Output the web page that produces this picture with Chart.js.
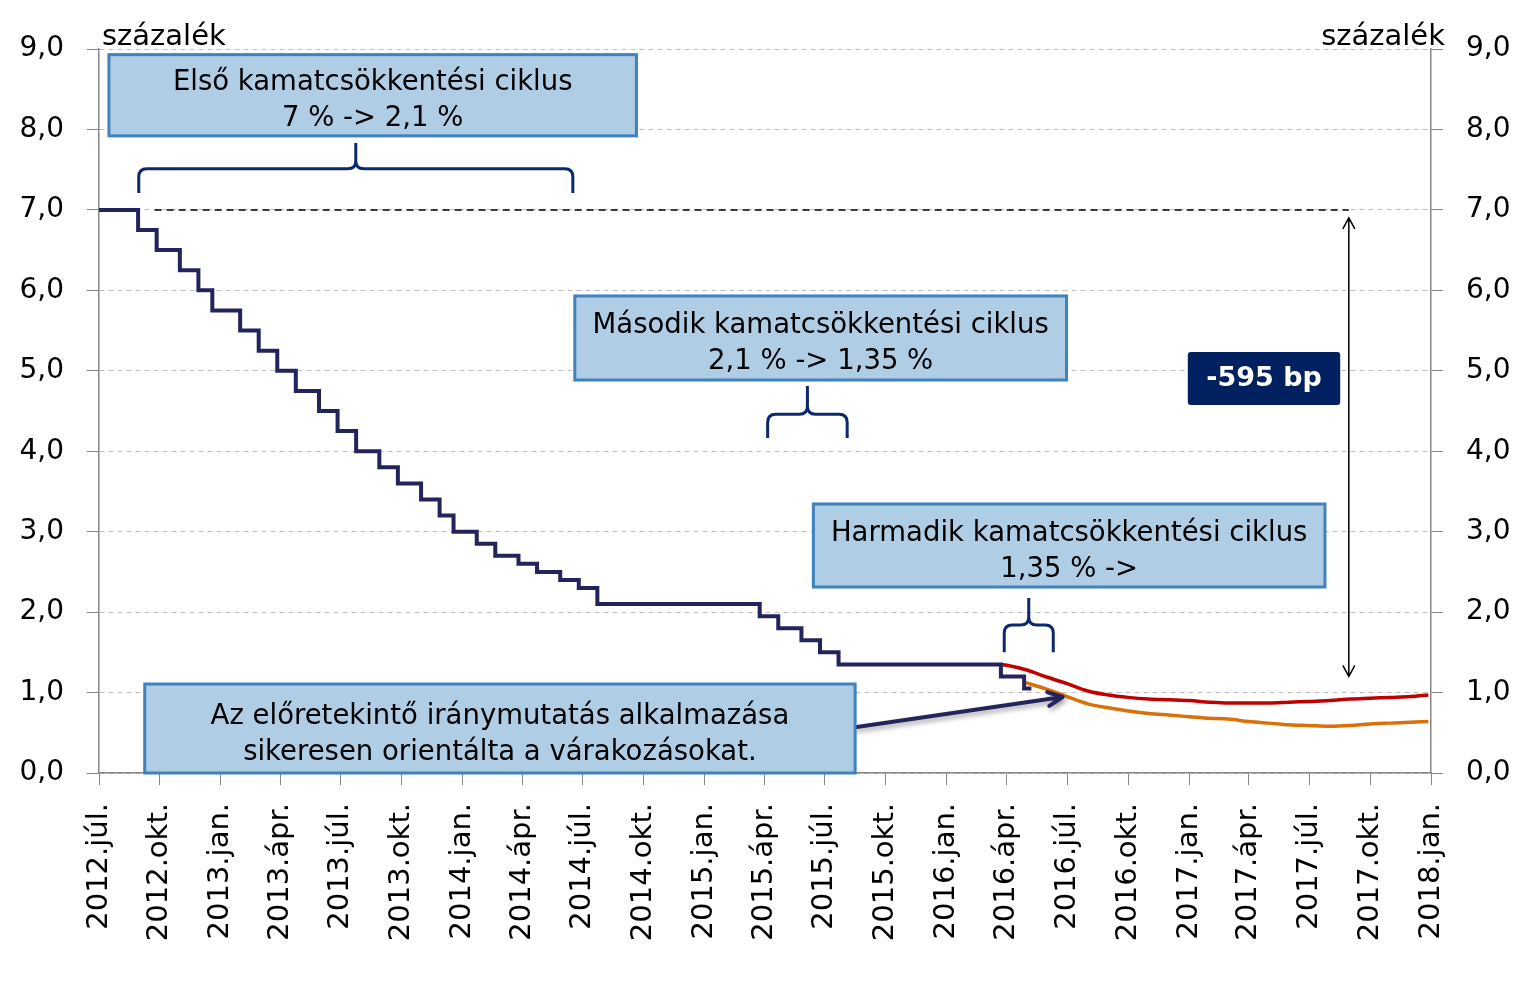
<!DOCTYPE html>
<html>
<head>
<meta charset="utf-8">
<script src="https://cdn.jsdelivr.net/npm/chart.js@4.4.1/dist/chart.umd.min.js"></script>
<style>
  body { margin: 0; background: #fff; }
  #wrap { width: 1525px; height: 996px; position: relative; }
</style>
</head>
<body>
<div id="wrap"><canvas id="rateChart"></canvas></div>
<script>
// Jegybanki alapkamat (lépcsős), dátum + új érték
const rateDates = ['2012-07-01', '2012-08-29', '2012-09-26', '2012-10-31', '2012-11-28', '2012-12-19',
    '2013-01-30', '2013-02-27', '2013-03-27', '2013-04-24', '2013-05-29', '2013-06-26', '2013-07-24',
    '2013-08-28', '2013-09-25', '2013-10-30', '2013-11-27', '2013-12-18', '2014-01-22', '2014-02-19',
    '2014-03-26', '2014-04-23', '2014-05-28', '2014-06-25', '2014-07-23', '2015-03-25', '2015-04-22',
    '2015-05-27', '2015-06-24', '2015-07-22', '2016-03-23', '2016-04-27', '2016-05-08'];
const rateValues = [7.0, 6.75, 6.5, 6.25, 6.0, 5.75, 5.5, 5.25, 5.0, 4.75, 4.5, 4.25, 4.0, 3.8, 3.6, 3.4,
    3.2, 3.0, 2.85, 2.7, 2.6, 2.5, 2.4, 2.3, 2.1, 1.95, 1.8, 1.65, 1.5, 1.35, 1.2, 1.05, 1.05];

// Várakozások (piros és narancs görbe)
const redDates = ['2016-03-23', '2016-04-01', '2016-05-01', '2016-06-01', '2016-07-01', '2016-08-01',
    '2016-09-01', '2016-10-01', '2016-11-01', '2016-12-01', '2017-01-01', '2017-02-01', '2017-03-01',
    '2017-04-01', '2017-05-01', '2017-06-01', '2017-07-01', '2017-08-01', '2017-09-01', '2017-10-01',
    '2017-11-01', '2017-12-01', '2017-12-28'];
const redValues = [1.35, 1.34, 1.28, 1.19, 1.11, 1.02, 0.97, 0.94, 0.92, 0.91, 0.90, 0.88, 0.87,
    0.87, 0.87, 0.88, 0.89, 0.90, 0.92, 0.93, 0.94, 0.95, 0.97];

const orangeDates = ['2016-04-27', '2016-06-01', '2016-07-01', '2016-08-01', '2016-09-01', '2016-10-01',
    '2016-11-01', '2016-12-01', '2017-01-01', '2017-02-01', '2017-03-01', '2017-04-01', '2017-05-01',
    '2017-06-01', '2017-07-01', '2017-08-01', '2017-09-01', '2017-10-01', '2017-11-01', '2017-12-01',
    '2017-12-28'];
const orangeValues = [1.13, 1.04, 0.95, 0.86, 0.81, 0.77, 0.74, 0.72, 0.70, 0.68, 0.67, 0.64, 0.62,
    0.60, 0.59, 0.58, 0.59, 0.61, 0.62, 0.63, 0.64];

// Tengelyfeliratok (negyedévente)
const tickDates = ['2012-07-01', '2012-10-01', '2013-01-01', '2013-04-01', '2013-07-01', '2013-10-01',
    '2014-01-01', '2014-04-01', '2014-07-01', '2014-10-01', '2015-01-01', '2015-04-01', '2015-07-01',
    '2015-10-01', '2016-01-01', '2016-04-01', '2016-07-01', '2016-10-01', '2017-01-01', '2017-04-01',
    '2017-07-01', '2017-10-01', '2018-01-01'];
const tickLabels = ['2012.júl.', '2012.okt.', '2013.jan.', '2013.ápr.', '2013.júl.', '2013.okt.',
    '2014.jan.', '2014.ápr.', '2014.júl.', '2014.okt.', '2015.jan.', '2015.ápr.', '2015.júl.',
    '2015.okt.', '2016.jan.', '2016.ápr.', '2016.júl.', '2016.okt.', '2017.jan.', '2017.ápr.',
    '2017.júl.', '2017.okt.', '2018.jan.'];

const FONT = 'DejaVu Sans';
const origin = Date.parse('2012-07-01');
function day(s) { return (Date.parse(s) - origin) / 86400000; }
function pts(dates, values) { return dates.map((d, i) => ({ x: day(d), y: values[i] })); }

// Szövegdobozok, kapcsos zárójelek (adatkoordinátákban)
const boxes = [
    { from: '2012-07-16', to: '2014-09-20', top: 8.93, bottom: 7.92, lines: ['Első kamatcsökkentési ciklus', '7 % -> 2,1 %'] },
    { from: '2014-06-19', to: '2016-06-30', top: 5.93, bottom: 4.885, lines: ['Második kamatcsökkentési ciklus', '2,1 % -> 1,35 %'] },
    { from: '2015-06-14', to: '2017-07-25', top: 3.344, bottom: 2.312, lines: ['Harmadik kamatcsökkentési ciklus', '1,35 % ->'] },
    { from: '2012-09-08', to: '2015-08-16', top: 1.106, bottom: 0.0, lines: ['Az előretekintő iránymutatás alkalmazása', 'sikeresen orientálta a várakozásokat.'] }
];
const braces = [
    { from: '2012-08-30', to: '2014-06-16', bottom: 7.21, mid: 7.51, tip: 7.83 },
    { from: '2015-04-06', to: '2015-08-04', bottom: 4.165, mid: 4.46, tip: 4.81 },
    { from: '2016-03-28', to: '2016-06-10', bottom: 1.50, mid: 1.84, tip: 2.175 }
];

const annotations = {
    id: 'annotations',
    afterDraw(chart) {
        const ctx = chart.ctx;
        const xs = chart.scales.x, ys = chart.scales.y;
        const X = s => xs.getPixelForValue(day(s));
        const Y = v => ys.getPixelForValue(v);
        ctx.save();

        // százalék
        ctx.font = '29px ' + FONT;
        ctx.fillStyle = '#000';
        ctx.textBaseline = 'alphabetic';
        ctx.textAlign = 'left';
        ctx.fillText('százalék', chart.chartArea.left + 3, 45);
        ctx.textAlign = 'right';
        ctx.fillText('százalék', chart.chartArea.right + 14, 45);

        // 7% szaggatott vonal
        ctx.strokeStyle = '#000';
        ctx.lineWidth = 1.5;
        ctx.setLineDash([7, 5]);
        ctx.beginPath();
        ctx.moveTo(X('2012-09-23'), Y(7));
        ctx.lineTo(X('2017-08-30'), Y(7));
        ctx.stroke();
        ctx.setLineDash([]);

        // kétirányú nyíl
        const ax = X('2017-08-30');
        const ay1 = Y(6.9), ay2 = Y(1.2);
        ctx.beginPath();
        ctx.moveTo(ax, ay1); ctx.lineTo(ax, ay2);
        ctx.moveTo(ax - 6, ay1 + 11); ctx.lineTo(ax, ay1); ctx.lineTo(ax + 6, ay1 + 11);
        ctx.moveTo(ax - 6, ay2 - 11); ctx.lineTo(ax, ay2); ctx.lineTo(ax + 6, ay2 - 11);
        ctx.stroke();

        // kapcsos zárójelek
        ctx.strokeStyle = '#0B2A6B';
        ctx.lineWidth = 3;
        braces.forEach(b => {
            const x0 = X(b.from), x1 = X(b.to), xm = (x0 + x1) / 2;
            const yb = Y(b.bottom), ym = Y(b.mid), yt = Y(b.tip);
            const r = 8;
            ctx.beginPath();
            ctx.moveTo(x0, yb);
            ctx.lineTo(x0, ym + r);
            ctx.quadraticCurveTo(x0, ym, x0 + r, ym);
            ctx.lineTo(xm - r, ym);
            ctx.quadraticCurveTo(xm, ym, xm, ym - r);
            ctx.lineTo(xm, yt);
            ctx.moveTo(xm, ym - r);
            ctx.quadraticCurveTo(xm, ym, xm + r, ym);
            ctx.lineTo(x1 - r, ym);
            ctx.quadraticCurveTo(x1, ym, x1, ym + r);
            ctx.lineTo(x1, yb);
            ctx.stroke();
        });

        // nyíl a doboztól a görbéhez
        const sx = X(boxes[3].to), sy = Y(0.57);
        const ex = X('2016-06-24'), ey = Y(0.945);
        const ang = Math.atan2(ey - sy, ex - sx);
        ctx.save();
        ctx.shadowColor = 'rgba(0,0,0,0.35)';
        ctx.shadowBlur = 5;
        ctx.shadowOffsetX = 2;
        ctx.shadowOffsetY = 3;
        ctx.strokeStyle = '#24245C';
        ctx.lineWidth = 4;
        ctx.lineCap = 'round';
        ctx.lineJoin = 'round';
        ctx.beginPath();
        ctx.moveTo(sx, sy); ctx.lineTo(ex, ey);
        ctx.moveTo(ex - 16 * Math.cos(ang - 0.45), ey - 16 * Math.sin(ang - 0.45));
        ctx.lineTo(ex, ey);
        ctx.lineTo(ex - 16 * Math.cos(ang + 0.45), ey - 16 * Math.sin(ang + 0.45));
        ctx.stroke();
        ctx.restore();

        // dobozok
        boxes.forEach(b => {
            const x0 = X(b.from), x1 = X(b.to), y0 = Y(b.top), y1 = Y(b.bottom);
            ctx.fillStyle = '#AFCDE4';
            ctx.fillRect(x0, y0, x1 - x0, y1 - y0);
            ctx.strokeStyle = '#3E82BE';
            ctx.lineWidth = 3;
            ctx.strokeRect(x0, y0, x1 - x0, y1 - y0);
            ctx.fillStyle = '#000';
            ctx.font = '27.5px ' + FONT;
            ctx.textAlign = 'center';
            ctx.textBaseline = 'alphabetic';
            const mid = (y0 + y1) / 2, cx = (x0 + x1) / 2;
            ctx.fillText(b.lines[0], cx, mid - 5);
            ctx.fillText(b.lines[1], cx, mid + 31);
        });

        // -595 bp
        const bx0 = X('2016-12-30'), bx1 = X('2017-08-17'), by0 = Y(5.234), by1 = Y(4.575);
        ctx.fillStyle = '#002060';
        ctx.beginPath();
        ctx.roundRect(bx0, by0, bx1 - bx0, by1 - by0, 3);
        ctx.fill();
        ctx.fillStyle = '#fff';
        ctx.font = 'bold 27px ' + FONT;
        ctx.textAlign = 'center';
        ctx.textBaseline = 'middle';
        ctx.fillText('-595 bp', (bx0 + bx1) / 2, (by0 + by1) / 2 + 1);

        ctx.restore();
    }
};

const fmt = v => v.toFixed(1).replace('.', ',');

new Chart(document.getElementById('rateChart'), {
    type: 'line',
    data: {
        datasets: [{
            label: 'Alapkamat',
            data: pts(rateDates, rateValues),
            borderColor: '#24245C',
            borderWidth: 4,
            stepped: 'before',
            pointRadius: 0,
            fill: false
        }, {
            label: 'Várakozás 1',
            data: pts(redDates, redValues),
            borderColor: '#C00000',
            borderWidth: 3.5,
            cubicInterpolationMode: 'monotone',
            pointRadius: 0,
            fill: false
        }, {
            label: 'Várakozás 2',
            data: pts(orangeDates, orangeValues),
            borderColor: '#D9700A',
            borderWidth: 3.5,
            cubicInterpolationMode: 'monotone',
            pointRadius: 0,
            fill: false
        }]
    },
    options: {
        responsive: true,
        maintainAspectRatio: false,
        animation: false,
        layout: { padding: { top: 49, left: 0, right: 0, bottom: 0 } },
        plugins: {
            legend: { display: false },
            tooltip: { enabled: false }
        },
        scales: {
            x: {
                type: 'linear',
                min: day(tickDates[0]),
                max: day(tickDates[tickDates.length - 1]),
                afterBuildTicks: scale => { scale.ticks = tickDates.map(d => ({ value: day(d) })); },
                afterFit: scale => { scale.height = 223; },
                ticks: {
                    callback: (v, i) => tickLabels[i],
                    minRotation: 90,
                    maxRotation: 90,
                    autoSkip: false,
                    padding: 18,
                    color: '#000',
                    font: { family: FONT, size: 29 }
                },
                grid: { drawOnChartArea: false, tickLength: 12, tickColor: '#868686' },
                border: { color: '#868686', width: 1.5 }
            },
            y: {
                position: 'left',
                min: 0,
                max: 9,
                afterFit: scale => { scale.width = 99; },
                ticks: {
                    stepSize: 1,
                    callback: v => fmt(v),
                    padding: 23,
                    color: '#000',
                    font: { family: FONT, size: 28 }
                },
                grid: { color: '#BFBFBF', lineWidth: 1, tickLength: 12, tickColor: '#868686' },
                border: { color: '#868686', width: 1.5, dash: [5, 4] }
            },
            y2: {
                position: 'right',
                min: 0,
                max: 9,
                afterFit: scale => { scale.width = 94; },
                ticks: {
                    stepSize: 1,
                    callback: v => fmt(v),
                    padding: 23,
                    color: '#000',
                    font: { family: FONT, size: 28 }
                },
                grid: { drawOnChartArea: false, tickLength: 12, tickColor: '#868686' },
                border: { color: '#868686', width: 1.5 }
            }
        }
    },
    plugins: [annotations]
});
</script>
</body>
</html>
